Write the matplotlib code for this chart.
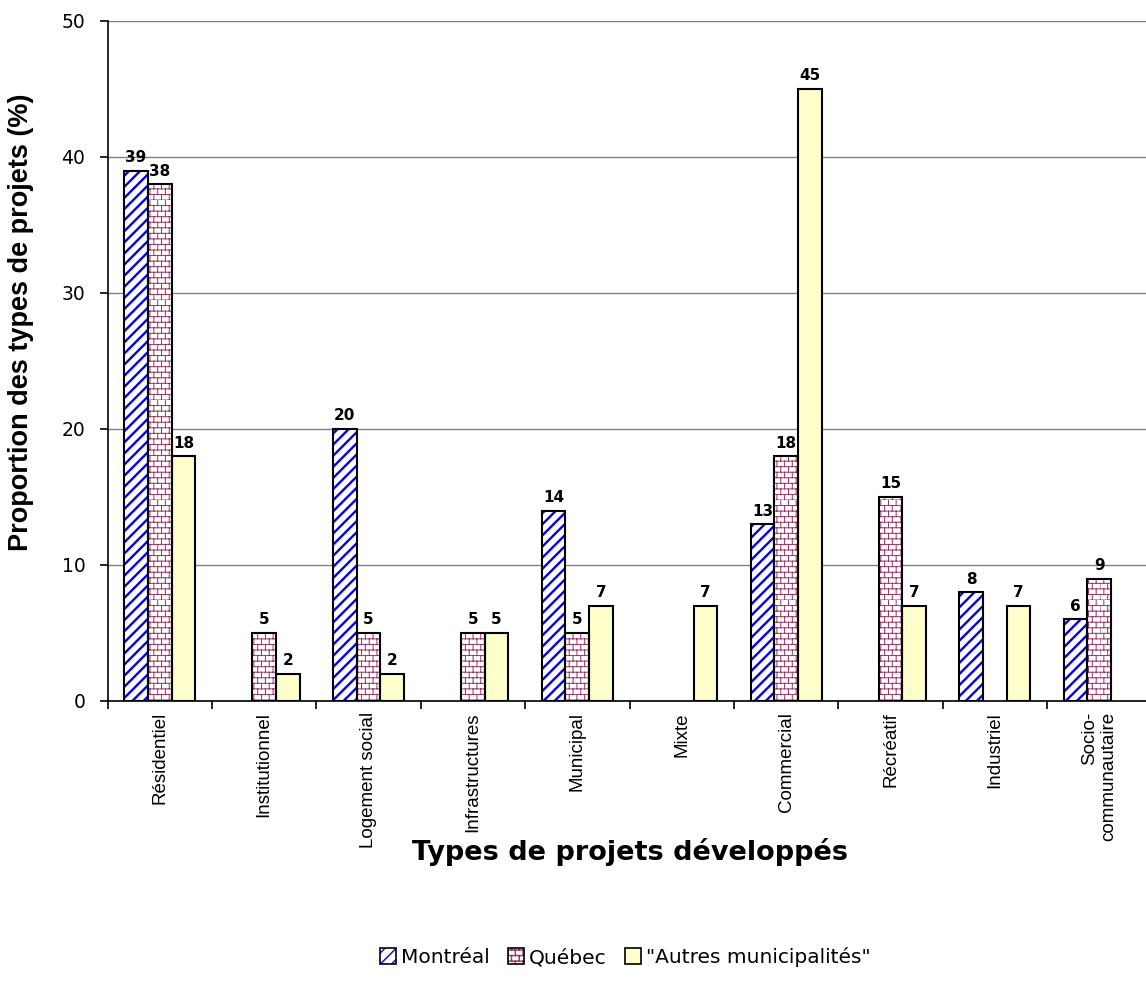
import warnings
import numpy as np
import matplotlib
matplotlib.use("Agg")
import matplotlib.pyplot as plt
from matplotlib import hatch as mhatch
from matplotlib.path import Path
from matplotlib.patches import Rectangle
from matplotlib.legend_handler import HandlerTuple

warnings.filterwarnings("ignore")

# ---- data -------------------------------------------------------------
categories = ["Résidentiel", "Institutionnel", "Logement social", "Infrastructures",
              "Municipal", "Mixte", "Commercial", "Récréatif", "Industriel",
              "Socio-\ncommunautaire"]
series_names = ["Montréal", "Québec", "\"Autres municipalités\""]
montreal = [39, np.nan, 20, np.nan, 14, np.nan, 13, np.nan, 8, 6]
quebec = [38, 5, 5, 5, 5, np.nan, 18, 15, np.nan, 9]
autres = [18, 2, 2, 5, 7, 7, 45, 7, 7, np.nan]
y_ticks = [0, 10, 20, 30, 40, 50]


# ---- brick hatch ("b") --------------------------------------------------
class BrickHatch(mhatch.HatchPatternBase):
    rows = 18
    cols = 13

    def __init__(self, hatch, density):
        self.on = 'b' in hatch
        self.num_vertices = (self.rows * 2 + self.rows * self.cols * 2) if self.on else 0

    def set_vertices_and_codes(self, vertices, codes):
        k = 0
        for i in range(self.rows):
            y0 = i / self.rows
            y1 = (i + 1) / self.rows
            vertices[k] = (0.0, y0); codes[k] = Path.MOVETO; k += 1
            vertices[k] = (1.0, y0); codes[k] = Path.LINETO; k += 1
            off = 0.5 * (i % 2)
            for j in range(self.cols):
                xx = (j + off) / self.cols
                vertices[k] = (xx, y0); codes[k] = Path.MOVETO; k += 1
                vertices[k] = (xx, y1); codes[k] = Path.LINETO; k += 1


mhatch._hatch_types.append(BrickHatch)

# ---- styles -------------------------------------------------------------
styles = [
    dict(face="white", hatch="///", hcolor="#0000FF", hlw=1.7),
    dict(face="white", hatch="b", hcolor="#993366", hlw=0.7),
    dict(face="#FFFFCC", hatch=None, hcolor="#FFFFCC", hlw=1.0),
]

fig = plt.figure(figsize=(11.46, 9.89), dpi=100)
ax = fig.add_axes([107.5 / 1146, 1 - 701 / 989, 1044 / 1146, 680 / 989])

x = np.arange(len(categories))
width = 0.227
all_series = [montreal, quebec, autres]


def set_hlw(patch, lw):
    if hasattr(patch, "set_hatch_linewidth"):
        patch.set_hatch_linewidth(lw)


legend_handles = []
for s, (vals, st) in enumerate(zip(all_series, styles)):
    pos = x + (s - 1) * width
    with plt.rc_context({"hatch.linewidth": st["hlw"]}):
        fill = ax.bar(pos, vals, width, color=st["face"], edgecolor=st["hcolor"],
                      hatch=st["hatch"], linewidth=0, zorder=2)
        for p in fill:
            set_hlw(p, st["hlw"])
        h_fill = Rectangle((0, 0), 1, 1, facecolor=st["face"], edgecolor=st["hcolor"],
                           hatch=st["hatch"], linewidth=0)
        set_hlw(h_fill, st["hlw"])
    outline = ax.bar(pos, vals, width, facecolor="none", edgecolor="black",
                     linewidth=1.5, zorder=3)
    labels = ["" if np.isnan(v) else f"{int(v)}" for v in vals]
    ax.bar_label(outline, labels=labels, padding=4, fontsize=11,
                 fontweight="bold", family="DejaVu Sans")
    h_out = Rectangle((0, 0), 1, 1, facecolor="none", edgecolor="black", linewidth=1.2)
    legend_handles.append((h_fill, h_out))

# ---- axes -------------------------------------------------------------
ax.set_xlim(-0.5, len(categories) - 0.5)
ax.set_ylim(0, 50)
ax.set_yticks(y_ticks)
ax.set_yticklabels([str(t) for t in y_ticks], family="DejaVu Sans", fontsize=13.5)
ax.tick_params(axis="y", direction="out", length=6, width=1.2, pad=10)
ax.yaxis.grid(True, color="#808080", linewidth=1.0)
ax.set_axisbelow(True)

ax.set_xticks(x)
ax.set_xticklabels(categories, rotation=90, family="Liberation Sans", fontsize=13.5,
                   va="top", ha="center", multialignment="right")
ax.tick_params(axis="x", length=0, pad=8)
ax.set_xticks(np.arange(len(categories) + 1) - 0.5, minor=True)
ax.tick_params(axis="x", which="minor", direction="out", length=6, width=1.2)

for side in ("top", "right"):
    ax.spines[side].set_visible(False)
for side in ("left", "bottom"):
    ax.spines[side].set_linewidth(1.2)

ax.set_ylabel("Proportion des types de projets (%)", family="Liberation Sans",
              fontweight="bold", fontsize=19.5)
ax.yaxis.set_label_coords(-73 / 1044, (701 - 322) / 680)
fig.text(630 / 1146, 1 - 852 / 989, "Types de projets développés", family="DejaVu Sans",
         fontweight="bold", fontsize=19.5, ha="center", va="center")

fig.legend(legend_handles, series_names, loc="center",
           bbox_to_anchor=(625 / 1146, 1 - 957 / 989),
           ncol=3, frameon=False, handler_map={tuple: HandlerTuple(ndivide=1)},
           prop={"family": "DejaVu Sans", "size": 14.5}, handlelength=0.8,
           handleheight=0.8, handletextpad=0.25, columnspacing=0.9)

fig.savefig("out.png", dpi=100)
